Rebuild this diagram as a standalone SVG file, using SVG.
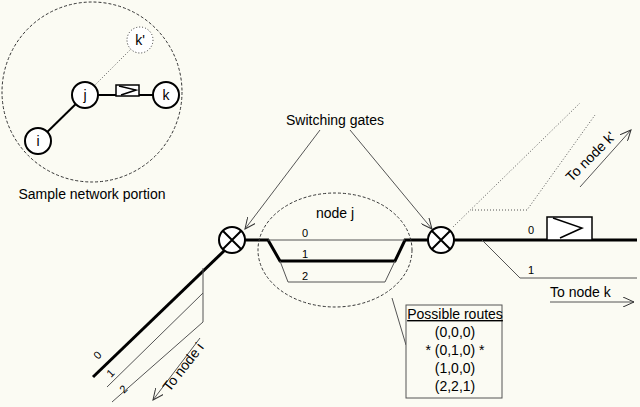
<svg xmlns="http://www.w3.org/2000/svg" width="640" height="407" viewBox="0 0 640 407">
<defs>
<style>
text{font-family:"Liberation Sans",Arial,sans-serif;font-size:14px;fill:#000}
.sm{font-size:11px}
.thick{stroke:#000;stroke-width:3;fill:none}
.thin{stroke:#555;stroke-width:1;fill:none}
.nd{fill:#fff;stroke:#000;stroke-width:2}
.dash{fill:none;stroke:#333;stroke-dasharray:3,2}
.dot{fill:none;stroke:#555;stroke-dasharray:1,2}
</style>
<marker id="oa" markerWidth="12" markerHeight="10" refX="11" refY="5" orient="auto" markerUnits="userSpaceOnUse"><path d="M0,0 L11,5 L0,10" fill="none" stroke="#333"/></marker>
</defs>
<rect width="640" height="407" fill="#fbfbf3"/>
<g id="sample">
<circle cx="92" cy="92" r="90" class="dash"/>
<line x1="38" y1="141" x2="85" y2="95" stroke="#000" stroke-width="2"/>
<line x1="85" y1="95" x2="140" y2="40" class="dot"/>
<line x1="85" y1="95" x2="166" y2="95" stroke="#000" stroke-width="2"/>
<rect x="116" y="85" width="23" height="11" fill="#fff" stroke="#000" stroke-width="1.5"/>
<path d="M119,86 L136,90 L121,95" fill="none" stroke="#000" stroke-width="1.5"/>
<circle cx="140" cy="40" r="13" fill="#fff" stroke="#333" stroke-dasharray="1,2"/>
<circle cx="85" cy="95" r="13" class="nd"/>
<circle cx="166" cy="95" r="13" class="nd"/>
<circle cx="38" cy="141" r="13" class="nd"/>
<text x="140" y="45" text-anchor="middle">k'</text>
<text x="85" y="100" text-anchor="middle">j</text>
<text x="166" y="100" text-anchor="middle">k</text>
<text x="38" y="146" text-anchor="middle">i</text>
<text x="92" y="199" text-anchor="middle">Sample network portion</text>
</g>
<g id="connectors">
<line x1="93" y1="377" x2="225" y2="250" class="thick"/>
<path d="M107,387 L203,293" class="thin"/>
<path d="M112,402 L203,322 L203,268" class="thin"/>
<line x1="200" y1="338" x2="153" y2="400" class="thin" marker-end="url(#oa)"/>
<path d="M245,240 L268,240 L280,261 L395,261 L405,240 L428,240" class="thick"/>
<path d="M268,240 L405,240" class="thin"/>
<path d="M280,261 L288,282 L385,282 L395,261" class="thin"/>
<path d="M454,240 L637,240" class="thick"/>
<path d="M482,240 L520,278 L637,278" class="thin"/>
<path d="M453,227 L580,103" class="dot"/>
<path d="M472,210 L527,210 L595,115" class="dot"/>
<line x1="580" y1="187" x2="631" y2="130" class="thin" marker-end="url(#oa)"/>
<line x1="550" y1="302" x2="634" y2="302" class="thin" marker-end="url(#oa)"/>
<line x1="320" y1="130" x2="245" y2="229" class="thin" marker-end="url(#oa)"/>
<line x1="350" y1="130" x2="432" y2="229" class="thin" marker-end="url(#oa)"/>
<line x1="406" y1="345" x2="392" y2="298" class="thin"/>
</g>
<g id="nodej">
<ellipse cx="335" cy="250" rx="77" ry="57" class="dash"/>
<text x="335" y="218" text-anchor="middle">node j</text>
<text x="302" y="237" class="sm">0</text>
<text x="302" y="258" class="sm">1</text>
<text x="302" y="280" class="sm">2</text>
</g>
<g id="gate-left">
<circle cx="232" cy="240" r="13" class="nd"/>
<path d="M223,231 L241,249 M241,231 L223,249" stroke="#000" stroke-width="2"/>
</g>
<g id="gate-right">
<circle cx="441" cy="240" r="13" class="nd"/>
<path d="M432,231 L450,249 M450,231 L432,249" stroke="#000" stroke-width="2"/>
</g>
<g id="buffer">
<rect x="547" y="217" width="45" height="23" fill="#fff" stroke="#000" stroke-width="1.5"/>
<path d="M553,218 L582,228 L560,238" fill="none" stroke="#000" stroke-width="1.5"/>
<text x="528" y="234" class="sm">0</text>
<text x="528" y="274" class="sm">1</text>
</g>
<g id="labels">
<text x="335" y="125" text-anchor="middle">Switching gates</text>
<text x="550" y="297">To node k</text>
<text transform="translate(594,160) rotate(-45)" text-anchor="middle">To node k'</text>
<text transform="translate(187,370) rotate(-52)" text-anchor="middle">To node i</text>
<text transform="translate(98,360) rotate(-45)" class="sm">0</text>
<text transform="translate(111,378) rotate(-45)" class="sm">1</text>
<text transform="translate(124,394) rotate(-45)" class="sm">2</text>
</g>
<g id="routes">
<rect x="406" y="305" width="96" height="93" fill="#fbfbf3" stroke="#555"/>
<text x="455" y="319" text-anchor="middle" text-decoration="underline">Possible routes</text>
<text x="455" y="337" text-anchor="middle">(0,0,0)</text>
<text x="455" y="355" text-anchor="middle">* (0,1,0) *</text>
<text x="455" y="373" text-anchor="middle">(1,0,0)</text>
<text x="455" y="391" text-anchor="middle">(2,2,1)</text>
</g>
</svg>
